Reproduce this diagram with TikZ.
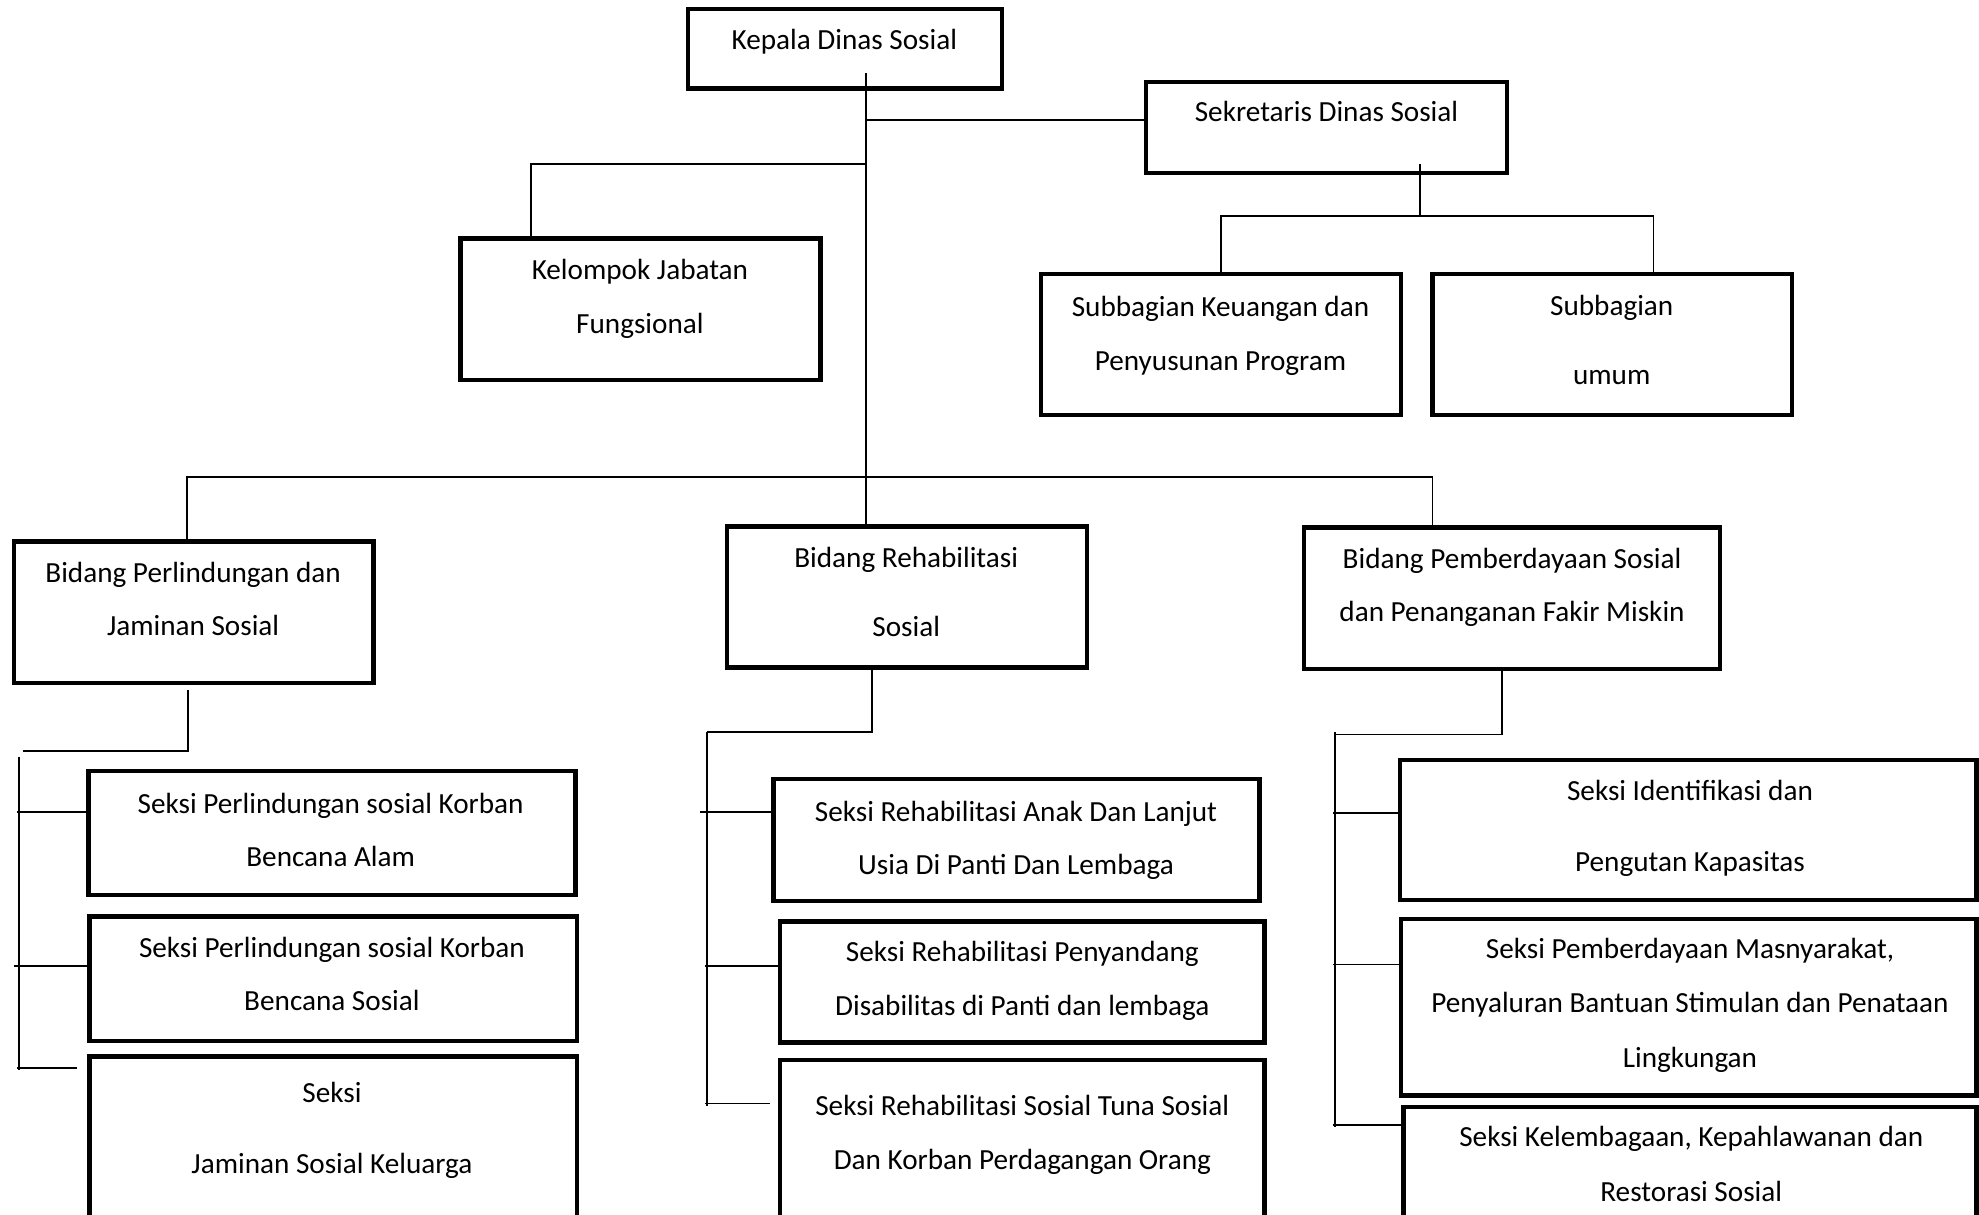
\documentclass[tikz,border=0pt]{standalone}
\usepackage{fontspec}
\setmainfont{Carlito}
\usetikzlibrary{fit,calc}
\begin{document}
\begin{tikzpicture}[x=0.6311pt, y=-0.6311pt,
  box/.style={draw, line width=2.2pt, inner sep=0pt},
  conn/.style={line width=0.9pt},
  lbl/.style={font=\fontsize{14.6}{17}\selectfont, anchor=base, inner sep=0pt, yshift=-1pt}]
\useasboundingbox (0,0) rectangle (1568,962);
\clip (0,0) rectangle (1568,962);
% boxes
\node[box, fit={(545,7)(794,70)}] (kepala) {};
\node[box, fit={(908,65)(1194,137)}] (sek) {};
\node[box, fit={(365,189)(650,301)}] (kel) {};
\node[box, fit={(825,217)(1110,329)}] (keu) {};
\node[box, fit={(1135,217)(1420,329)}] (umum) {};
\node[box, fit={(11,429)(296,541)}] (bpl) {};
\node[box, fit={(576,417)(861,529)}] (brh) {};
\node[box, fit={(1033,418)(1363,530)}] (bpm) {};
\node[box, fit={(70,611)(456,709)}] (s11) {};
\node[box, fit={(71,726)(457,825)}] (s12) {};
\node[box, fit={(71,837)(457,1000)}] (s13) {};
\node[box, fit={(613,617)(998,714)}] (s21) {};
\node[box, fit={(618,730)(1002,826)}] (s22) {};
\node[box, fit={(618,840)(1002,1000)}] (s23) {};
\node[box, fit={(1109,602)(1566,713)}] (s31) {};
\node[box, fit={(1110,728)(1566,868)}] (s32) {};
\node[box, fit={(1112,877)(1566,1000)}] (s33) {};
% labels
\node[lbl] (t1) at (669,38) {Kepala Dinas Sosial};
\node[lbl] (t2) at (1051,95) {Sekretaris Dinas Sosial};
\node[lbl] (t3a) at (507,220) {Kelompok Jabatan};
\node[lbl] (t3b) at (507,263) {Fungsional};
\node[lbl] (t4a) at (967,249) {Subbagian Keuangan dan};
\node[lbl] (t4b) at (967,292) {Penyusunan Program};
\node[lbl] (t5a) at (1277,248) {Subbagian};
\node[lbl] (t5b) at (1277,303) {umum};
\node[lbl] (t6a) at (153,460) {Bidang Perlindungan dan};
\node[lbl] (t6b) at (153,502) {Jaminan Sosial};
\node[lbl] (t7a) at (718,448) {Bidang Rehabilitasi};
\node[lbl] (t7b) at (718,503) {Sosial};
\node[lbl] (t8a) at (1198,449) {Bidang Pemberdayaan Sosial};
\node[lbl] (t8b) at (1198,491) {dan Penanganan Fakir Miskin};
\node[lbl] (t9a) at (262,643) {Seksi Perlindungan sosial Korban};
\node[lbl] (t9b) at (262,685) {Bencana Alam};
\node[lbl] (t10a) at (263,757) {Seksi Perlindungan sosial Korban};
\node[lbl] (t10b) at (263,799) {Bencana Sosial};
\node[lbl] (t11a) at (263,872) {Seksi};
\node[lbl] (t11b) at (263,928) {Jaminan Sosial Keluarga};
\node[lbl] (t12a) at (805,649) {Seksi Rehabilitasi Anak Dan Lanjut};
\node[lbl] (t12b) at (805,691) {Usia Di Panti Dan Lembaga};
\node[lbl] (t13a) at (810,760) {Seksi Rehabilitasi Penyandang};
\node[lbl] (t13b) at (810,803) {Disabilitas di Panti dan lembaga};
\node[lbl] (t14a) at (810,882) {Seksi Rehabilitasi Sosial Tuna Sosial};
\node[lbl] (t14b) at (810,925) {Dan Korban Perdagangan Orang};
\node[lbl] (t15a) at (1339,633) {Seksi Identifikasi dan};
\node[lbl] (t15b) at (1339,689) {Pengutan Kapasitas};
\node[lbl] (t16a) at (1339,758) {Seksi Pemberdayaan Masnyarakat,};
\node[lbl] (t16b) at (1339,801) {Penyaluran Bantuan Stimulan dan Penataan};
\node[lbl] (t16c) at (1339,844) {Lingkungan};
\node[lbl] (t17a) at (1340,907) {Seksi Kelembagaan, Kepahlawanan dan};
\node[lbl] (t17b) at (1340,950) {Restorasi Sosial};
% junction coordinates
\coordinate (kA) at (686,58);
\coordinate (kS) at (686,95);
\coordinate (kK) at (686,130);
\coordinate (kB) at (686,378);
\coordinate (sA) at (1125,130);
\coordinate (sB) at (1125,171);
\coordinate (lA) at (18,595);
\coordinate (lT) at (15,600);
\coordinate (lB) at (15,848);
\coordinate (mA) at (560,580);
\coordinate (mB) at (560,876);
\coordinate (rA) at (1058,582);
\coordinate (rT) at (1058,580);
\coordinate (rB) at (1058,893);
% connectors
\draw[conn] (kA) -- (kA |- brh.north);
\draw[conn] (kS) -- (kS -| sek.west);
\draw[conn] (kK) -| ($(kel.north)+(-86.5,0)$);
\draw[conn] ($(bpl.north)+(-5.5,0)$) |- (kB) -| ($(bpm.north)+(-63,0)$);
\draw[conn] (sA) -- (sB);
\draw[conn] (keu.north) |- (sB) -| ($(umum.north)+(32.5,0)$);
% left group
\draw[conn] ($(bpl.south)+(-4.5,4)$) |- (lA);
\draw[conn] (lT) -- (lB);
\draw[conn] ($(s11.north west)+(0,34)$) -- ++(-55,0);
\draw[conn] ($(s12.north west)+(0,41)$) -- ++(-58,0);
\draw[conn] ($(s13.north west)+(-8,11)$) -- ++(-48,0);
% middle group
\draw[conn] ($(brh.south)+(-27.5,0)$) |- (mA);
\draw[conn] (mA) -- (mB);
\draw[conn] ($(s21.north west)+(0,28)$) -- ++(-57,0);
\draw[conn] ($(s22.north west)+(0,37)$) -- ++(-58,0);
\draw[conn] ($(s23.north west)+(-6,36)$) -- ++(-52,0);
% right group
\draw[conn] ($(bpm.south)+(-8,0)$) |- (rA);
\draw[conn] (rT) -- (rB);
\draw[conn] ($(s31.north west)+(0,44)$) -- ++(-51,0);
\draw[conn] ($(s32.north west)+(0,38)$) -- ++(-52,0);
\draw[conn] ($(s33.north west)+(0,16)$) -- ++(-54,0);
\end{tikzpicture}
\end{document}
